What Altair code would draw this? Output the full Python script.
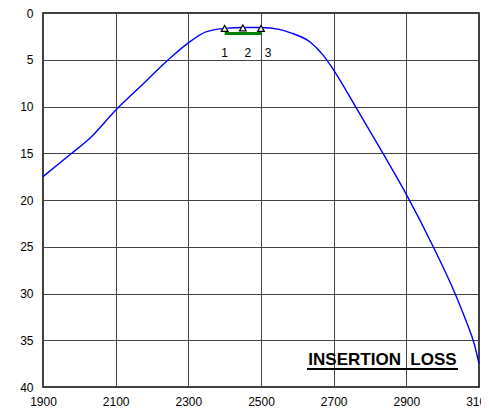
import altair as alt
import pandas as pd

# Curve (frequency, insertion loss dB)
freq = [1900, 1979, 2029, 2100, 2167, 2245, 2300, 2350, 2400, 2450, 2500, 2550,
        2580, 2635, 2671, 2700, 2763, 2837, 2900, 2974, 3034, 3064, 3087, 3100]
loss = [17.5, 15.0, 13.4, 10.4, 7.9, 5.0, 3.2, 2.0, 1.65, 1.55, 1.55, 1.75,
        2.1, 3.1, 4.5, 6.1, 10.2, 15.1, 19.4, 25.0, 30.0, 32.9, 35.4, 37.5]

# Markers
mk_x = [2400, 2450, 2500]
mk_y = [1.65, 1.6, 1.65]
mk_lbl = ["1", "2", "3"]
mk_dx = [0, 5, 7]

# Green band line
band_x = [2400, 2500]
band_y = [2.2, 2.2]

x_ticks = [1900, 2100, 2300, 2500, 2700, 2900, 3100]
y_ticks = [0, 5, 10, 15, 20, 25, 30, 35, 40]

FONT = "Liberation Sans"

curve = pd.DataFrame({"f": freq, "l": loss})
markers = pd.DataFrame({"f": mk_x, "l": mk_y, "t": mk_lbl, "dx": mk_dx})
band = pd.DataFrame({"f": band_x, "l": band_y})

xs = alt.Scale(domain=[1900, 3100], nice=False)
ys = alt.Scale(domain=[0, 40], reverse=True, nice=False)
xa = alt.Axis(values=x_ticks, title=None, grid=True, ticks=False, domain=False,
              labelFont=FONT, labelFontSize=12, labelPadding=9, labelColor="#000",
              gridColor="#444", gridWidth=1, labelFlush=False, format="d")
ya = alt.Axis(values=y_ticks, title=None, grid=True, ticks=False, domain=False,
              labelFont=FONT, labelFontSize=12, labelPadding=10, labelColor="#000",
              gridColor="#444", gridWidth=1)

line = alt.Chart(curve).mark_line(color="#0000ff", strokeWidth=1.4, interpolate="monotone", clip=False).encode(
    x=alt.X("f:Q", scale=xs, axis=xa),
    y=alt.Y("l:Q", scale=ys, axis=ya),
)

band_line = alt.Chart(band).mark_line(color="#008000", strokeWidth=3).encode(
    x=alt.X("f:Q", scale=xs), y=alt.Y("l:Q", scale=ys)
)

pts = alt.Chart(markers).mark_point(shape="triangle-up", size=45, filled=True, fill="white",
                                    stroke="black", strokeWidth=1.2, opacity=1).encode(
    x=alt.X("f:Q", scale=xs), y=alt.Y("l:Q", scale=ys)
)

labels = []
for i in range(len(mk_x)):
    labels.append(
        alt.Chart(markers.iloc[[i]]).mark_text(font=FONT, fontSize=12, dy=25, dx=mk_dx[i], color="#000").encode(
            x=alt.X("f:Q", scale=xs), y=alt.Y("l:Q", scale=ys), text="t:N"
        )
    )

title = alt.Chart(pd.DataFrame({"t": ["INSERTION\u00a0 LOSS"]})).mark_text(
    font=FONT, fontSize=17, fontWeight="bold", align="center", baseline="alphabetic", color="#000"
).encode(x=alt.value(339.5), y=alt.value(352), text="t:N")

underline = alt.Chart(pd.DataFrame({"a": [0]})).mark_rule(color="#000", strokeWidth=2).encode(
    x=alt.value(264), x2=alt.value(415), y=alt.value(356)
)

chart = alt.layer(line, band_line, pts, *labels, title, underline).properties(
    width=436, height=374,
    autosize=alt.AutoSizeParams(type="none"),
    padding={"left": 35, "top": 5, "right": 2, "bottom": 21},
    background="white",
).configure_view(stroke="#000", strokeWidth=1.5)

chart.save("out.html", embed_options={"renderer": "svg", "actions": False})
